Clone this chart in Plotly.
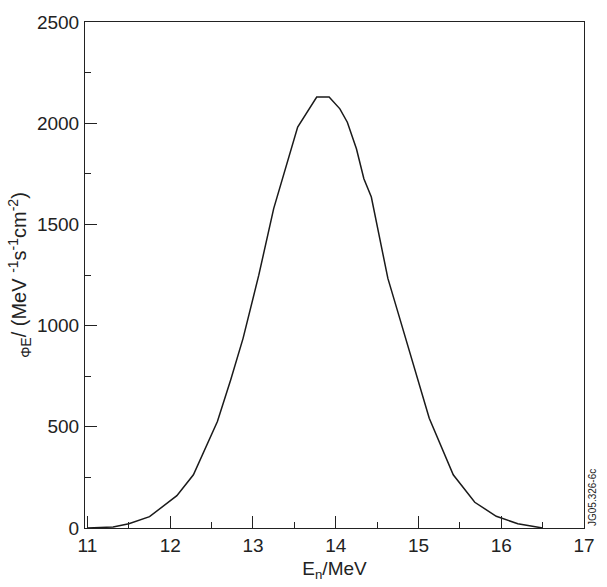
import plotly.graph_objects as go

energy_mev = [11.0, 11.31, 11.50, 11.75, 12.08, 12.28, 12.57, 12.73, 12.88, 13.07, 13.25, 13.37,
              13.54, 13.77, 13.92, 14.05, 14.14, 14.25, 14.34, 14.43, 14.63, 14.75, 14.97,
              15.13, 15.42, 15.68, 15.94, 16.20, 16.50]
flux = [0, 5, 21, 56, 160, 263, 526, 731, 937, 1249, 1578, 1750,
        1981, 2129, 2129, 2071, 2005, 1874, 1726, 1635, 1233, 1068, 756,
        542, 263, 127, 58, 21, 0]

x_ticks = [11, 12, 13, 14, 15, 16, 17]
y_ticks = [0, 500, 1000, 1500, 2000, 2500]

font = "Liberation Sans, Arial, sans-serif"

fig = go.Figure()
fig.add_trace(go.Scatter(x=energy_mev, y=flux, mode="lines",
                         line=dict(color="#1a1a1a", width=1.5), showlegend=False))

fig.update_layout(
    width=607, height=587,
    margin=dict(l=85, r=14, t=20, b=56),
    paper_bgcolor="white", plot_bgcolor="white",
    font=dict(family=font, size=19, color="#222"),
    xaxis=dict(range=[10.97, 17], tickvals=x_ticks, ticktext=[str(v) for v in x_ticks],
               ticks="inside", ticklen=12, tickcolor="#222", tickwidth=1,
               minor=dict(dtick=0.5, tick0=11, ticks="inside", ticklen=6, tickcolor="#222"),
               showline=True, linecolor="#222", linewidth=1, mirror=True,
               showgrid=False, zeroline=False, ticklabelstandoff=0,
               title=dict(text="E<sub>n</sub>/MeV", standoff=6, font=dict(size=19))),
    yaxis=dict(range=[0, 2500], tickvals=y_ticks,
               ticks="inside", ticklen=12, tickcolor="#222", tickwidth=1,
               minor=dict(dtick=250, tick0=0, ticks="inside", ticklen=6, tickcolor="#222"),
               showline=True, linecolor="#222", linewidth=1, mirror=True,
               showgrid=False, zeroline=False, ticklabelstandoff=1,
               title=dict(text="<sub>ΦE</sub>/ (MeV <sup>-1</sup>s<sup>-1</sup>cm<sup>-2</sup>)",
                          standoff=4, font=dict(size=20))),
)
fig.add_annotation(text="JG05.326-6c", x=1.0, y=0.0, xref="paper", yref="paper",
                   xanchor="left", yanchor="bottom", xshift=1, textangle=-90, showarrow=False,
                   font=dict(size=10, family=font, color="#222"))

fig.write_html("out.html")
